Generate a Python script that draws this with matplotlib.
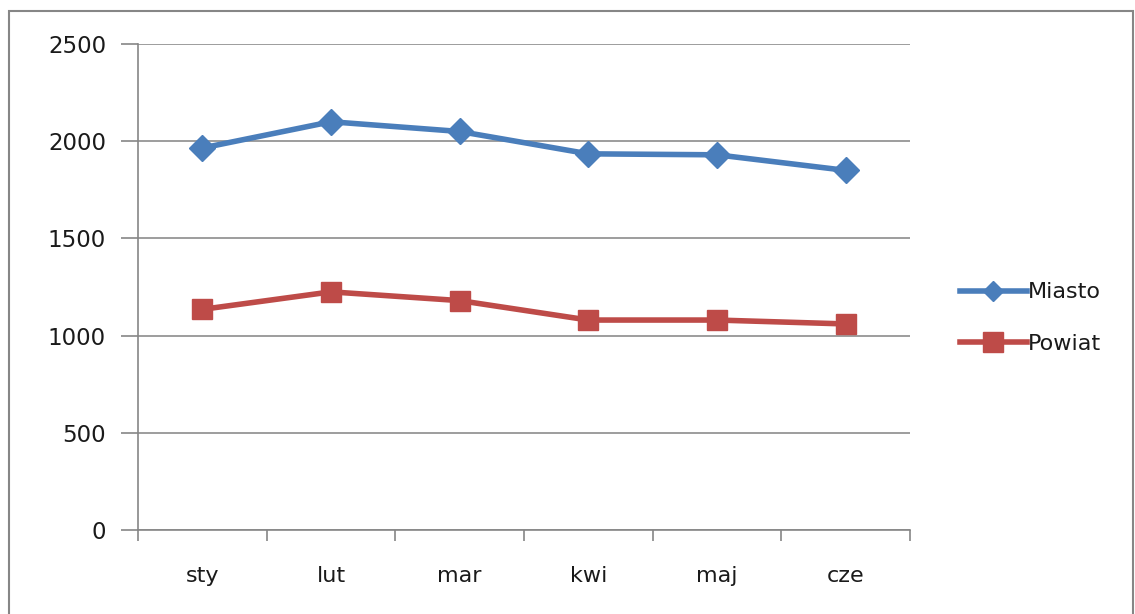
import numpy as np
from matplotlib import pyplot as plt
from matplotlib.patches import Rectangle

months = ['sty', 'lut', 'mar', 'kwi', 'maj', 'cze']
miasto = [1965, 2100, 2050, 1935, 1930, 1850]
powiat = [1135, 1225, 1180, 1080, 1080, 1060]
yticks = [0, 500, 1000, 1500, 2000, 2500]

plt.rcParams['font.family'] = ['DejaVu Sans']

fig = plt.figure(figsize=(11.35, 6.14), dpi=100)
ax = fig.add_axes([138/1135, 1-530/614, (910-138)/1135, (530-44)/614])

x = np.arange(len(months))
ax.plot(x, miasto, color='#4a7ebb', lw=4, marker='D', ms=13, label='Miasto')
ax.plot(x, powiat, color='#be4b48', lw=4, marker='s', ms=15, label='Powiat')

ax.set_xlim(-0.5, len(months)-0.5)
ax.set_ylim(0, 2500)
ax.set_yticks(yticks)
ax.set_yticklabels([str(v) for v in yticks], fontsize=16.5, color='#1a1a1a')
ax.set_xticks(x)
ax.set_xticklabels(months, fontsize=16, color='#1a1a1a')
ax.tick_params(axis='x', length=0, pad=26)
ax.set_xticks(np.arange(-0.5, len(months), 1), minor=True)
ax.tick_params(axis='x', which='minor', length=8, color='#868686', width=1.2)
ax.tick_params(axis='y', length=12, color='#868686', width=1.2, pad=11)

ax.grid(axis='y', color='#8c8c8c', lw=1.2)
ax.set_axisbelow(True)
for s in ['top', 'right']:
    ax.spines[s].set_visible(False)
ax.spines['left'].set_color('#868686')
ax.spines['bottom'].set_color('#868686')
ax.spines['left'].set_linewidth(1.2)
ax.spines['bottom'].set_linewidth(1.2)

leg = ax.legend(loc='center left', bbox_to_anchor=(940/1135, 1-318/614), bbox_transform=fig.transFigure,
                frameon=False, fontsize=16, handlelength=3.0, handletextpad=0.05, labelspacing=1.4)
for t in leg.get_texts():
    t.set_color('#1a1a1a')
leg.legend_handles[0].set_markersize(10)
leg.legend_handles[1].set_markersize(14)

# outer chart border
fig.patches.append(Rectangle((9/1135, -0.05), (1133-9)/1135, 1.05-11/614, transform=fig.transFigure,
                             fill=False, edgecolor='#868686', lw=1.5))

plt.savefig('out.png')
